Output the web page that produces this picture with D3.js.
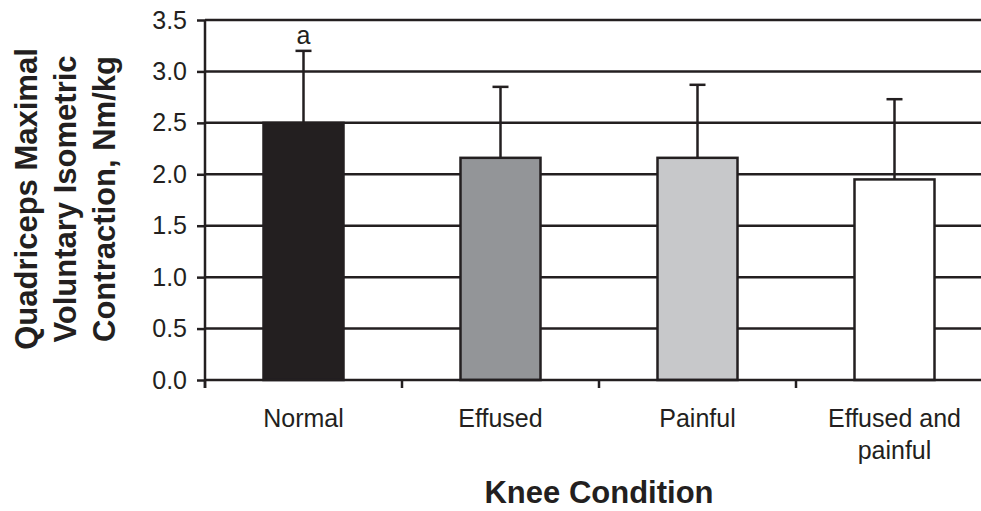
<!DOCTYPE html>
<html>
<head>
<meta charset="utf-8">
<script src="https://cdn.jsdelivr.net/npm/d3@7"></script>
<style>
  body { margin: 0; background: #fff; }
  svg { display: block; font-family: "Liberation Sans", Arial, sans-serif; }
</style>
</head>
<body>
<svg width="981" height="511"></svg>
<script>
"use strict";

// data
let conditions = ["Normal", "Effused", "Painful", "Effused and painful"];
let labelLines = [["Normal"], ["Effused"], ["Painful"], ["Effused and", "painful"]];
let means = [2.5, 2.16, 2.16, 1.95];
let errTops = [3.2, 2.85, 2.87, 2.73];
let fills = ["#231f20", "#939598", "#c7c8ca", "#ffffff"];
let notes = ["a", "", "", ""];
let yTicks = [0, 0.5, 1.0, 1.5, 2.0, 2.5, 3.0, 3.5];

let ink = "#231f20";

let svg = d3.select("svg"),
    plotLeft = 205,
    plotRight = 993,
    plotTop = 20,
    plotBottom = 380;

let x = d3.scaleBand().domain(conditions).range([plotLeft, plotRight]);
let y = d3.scaleLinear().domain([0, 3.5]).range([plotBottom, plotTop]);

let barW = 80;

// gridlines
svg.append("g").selectAll("line").data(yTicks.slice(1)).enter()
    .append("line")
    .attr("x1", plotLeft).attr("x2", 981)
    .attr("y1", function (d) { return y(d); })
    .attr("y2", function (d) { return y(d); })
    .attr("stroke", ink).attr("stroke-width", 2.5);

// error bars (upper only)
let eb = svg.append("g").selectAll("g").data(conditions).enter().append("g");
eb.append("line")
    .attr("x1", function (d) { return x(d) + x.bandwidth() / 2; })
    .attr("x2", function (d) { return x(d) + x.bandwidth() / 2; })
    .attr("y1", function (d, i) { return y(means[i]); })
    .attr("y2", function (d, i) { return y(errTops[i]); })
    .attr("stroke", ink).attr("stroke-width", 2.5);
eb.append("line")
    .attr("x1", function (d) { return x(d) + x.bandwidth() / 2 - 8; })
    .attr("x2", function (d) { return x(d) + x.bandwidth() / 2 + 8; })
    .attr("y1", function (d, i) { return y(errTops[i]); })
    .attr("y2", function (d, i) { return y(errTops[i]); })
    .attr("stroke", ink).attr("stroke-width", 2.5);

// bars
svg.append("g").selectAll("rect").data(conditions).enter()
    .append("rect")
    .attr("x", function (d) { return x(d) + x.bandwidth() / 2 - barW / 2; })
    .attr("y", function (d, i) { return y(means[i]); })
    .attr("width", barW)
    .attr("height", function (d, i) { return y(0) - y(means[i]); })
    .attr("fill", function (d, i) { return fills[i]; })
    .attr("stroke", ink).attr("stroke-width", 2.5);

// significance letters
svg.append("g").selectAll("text").data(conditions).enter()
    .append("text")
    .attr("x", function (d) { return x(d) + x.bandwidth() / 2; })
    .attr("y", function (d, i) { return y(errTops[i]) - 7; })
    .attr("text-anchor", "middle")
    .attr("font-size", 25)
    .attr("fill", ink)
    .text(function (d, i) { return notes[i]; });

// y axis
let yAxis = svg.append("g")
    .attr("transform", "translate(" + plotLeft + ",0)")
    .call(d3.axisLeft(y).tickValues(yTicks).tickFormat(d3.format(".1f")).tickSize(8).tickPadding(10));
yAxis.select(".domain").attr("d", "M0," + plotTop + "V" + (plotBottom + 8)).attr("stroke", ink).attr("stroke-width", 2.5);
yAxis.selectAll(".tick line").attr("stroke", ink).attr("stroke-width", 2.5);
yAxis.selectAll(".tick text").attr("font-size", 25).attr("fill", ink).attr("font-family", "Liberation Sans, Arial, sans-serif");

// x axis: ticks on band edges
let xAxis = svg.append("g");
xAxis.append("line")
    .attr("x1", plotLeft).attr("x2", 981)
    .attr("y1", y(0)).attr("y2", y(0))
    .attr("stroke", ink).attr("stroke-width", 2.5);
xAxis.selectAll(".xt").data(conditions).enter()
    .append("line").attr("class", "xt")
    .attr("x1", function (d) { return x(d); })
    .attr("x2", function (d) { return x(d); })
    .attr("y1", y(0)).attr("y2", y(0) + 8)
    .attr("stroke", ink).attr("stroke-width", 2.5);

let xl = svg.append("g").selectAll("text").data(conditions).enter()
    .append("text")
    .attr("x", function (d) { return x(d) + x.bandwidth() / 2; })
    .attr("y", 427)
    .attr("text-anchor", "middle")
    .attr("font-size", 25)
    .attr("fill", ink);
xl.selectAll("tspan").data(function (d, i) { return labelLines[i]; }).enter()
    .append("tspan")
    .attr("x", function () { return d3.select(this.parentNode).attr("x"); })
    .attr("dy", function (d, j) { return j === 0 ? 0 : 32; })
    .text(function (d) { return d; });

// axis titles
svg.append("text")
    .attr("x", (plotLeft + plotRight) / 2)
    .attr("y", 503)
    .attr("text-anchor", "middle")
    .attr("font-size", 31).attr("font-weight", "bold")
    .attr("fill", ink)
    .text("Knee Condition");

let yTitle = ["Quadriceps Maximal", "Voluntary Isometric", "Contraction, Nm/kg"];
svg.append("g").selectAll("text").data(yTitle).enter()
    .append("text")
    .attr("transform", function (d, i) { return "translate(" + (37 + i * 39) + ",199) rotate(-90)"; })
    .attr("text-anchor", "middle")
    .attr("font-size", 31).attr("font-weight", "bold")
    .attr("fill", ink)
    .text(function (d) { return d; });
</script>
</body>
</html>
